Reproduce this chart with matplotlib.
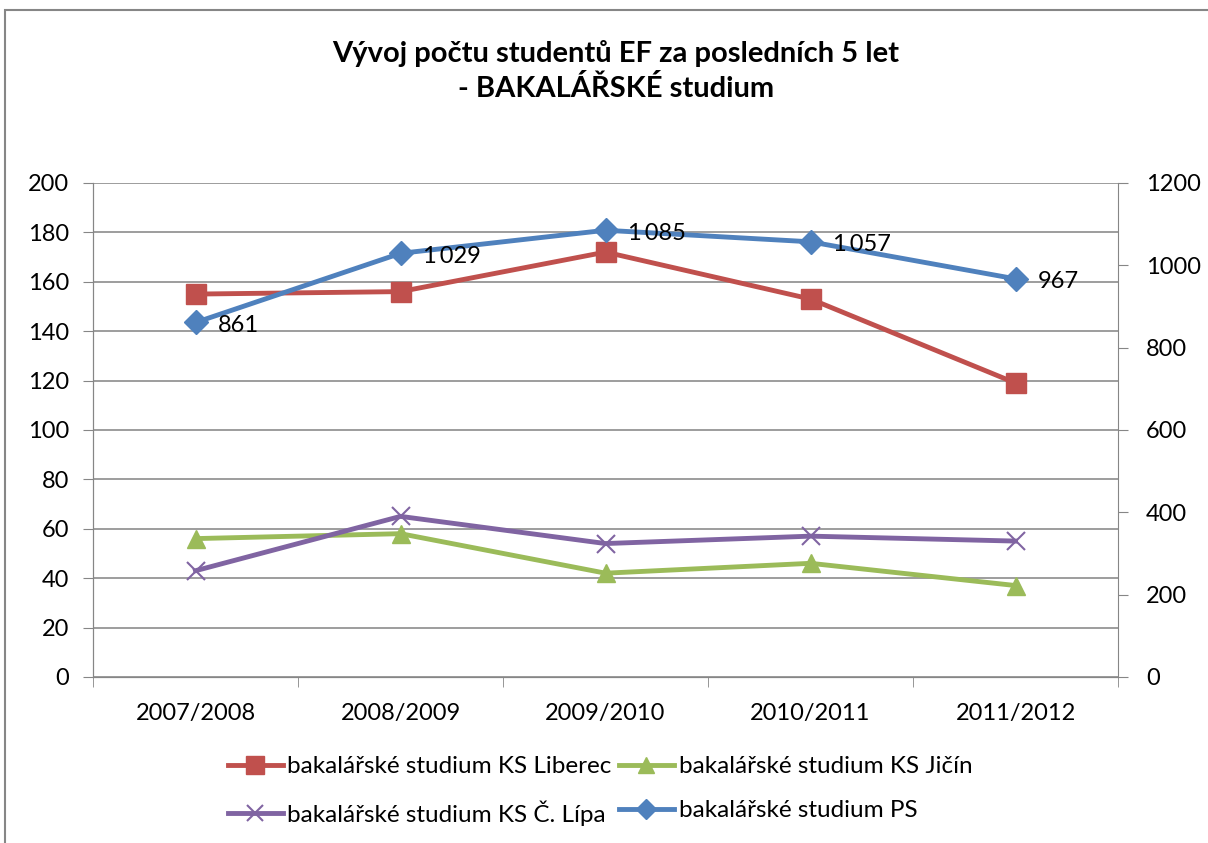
import matplotlib.pyplot as plt
from matplotlib.patches import Rectangle
from matplotlib.lines import Line2D

plt.rcParams['font.family'] = ['Lato', 'DejaVu Sans']

years = ['2007/2008', '2008/2009', '2009/2010', '2010/2011', '2011/2012']
liberec = [155, 156, 172, 153, 119]
jicin = [56, 58, 42, 46, 37]
lipa = [43, 65, 54, 57, 55]
ps = [861, 1029, 1085, 1057, 967]

red = '#C0504D'
green = '#9BBB59'
purple = '#8064A2'
blue = '#4F81BD'
gray = '#868686'

fig = plt.figure(figsize=(12.08, 8.43), dpi=100)
ax = fig.add_axes([0.077, 0.197, 0.8485, 0.586])
ax2 = ax.twinx()

x = range(len(years))
ax.plot(x, liberec, color=red, lw=3.5, marker='s', ms=14, zorder=3)
ax.plot(x, jicin, color=green, lw=3.5, marker='^', ms=13, zorder=3)
ax.plot(x, lipa, color=purple, lw=3.5, marker='x', ms=13, mew=1.5, zorder=3)
ax2.plot(x, ps, color=blue, lw=3.5, marker='D', ms=12, zorder=3)

for i, v in enumerate(ps):
    ax2.annotate(f'{v:,}'.replace(',', '\u2009'), (i, v), xytext=(16, -2),
                 textcoords='offset points', ha='left', va='center', fontsize=17)

ax.set_xlim(-0.5, len(years) - 0.5)
ax.set_ylim(0, 200)
ax.set_yticks(range(0, 201, 20))
ax2.set_ylim(0, 1200)
ax2.set_yticks(range(0, 1201, 200))
ax.set_xticks(list(x))
ax.set_xticklabels(years)
ax.set_xticks([i - 0.5 for i in range(len(years) + 1)], minor=True)
ax.tick_params(axis='x', which='major', length=0, pad=19, labelsize=17)
ax.tick_params(axis='x', which='minor', length=7, color=gray)
ax.tick_params(axis='y', length=7, color=gray, labelsize=17, pad=10)
ax2.tick_params(axis='y', length=7, color=gray, labelsize=17, pad=13)
ax.yaxis.grid(True, color='#8c8c8c', lw=1.2)
ax.set_axisbelow(True)

for a in (ax, ax2):
    a.spines['top'].set_visible(False)
    for s in ('left', 'right', 'bottom'):
        a.spines[s].set_color(gray)
ax.spines['right'].set_visible(False)

fig.text(0.51, 0.916, 'Vývoj počtu studentů EF za posledních 5 let\n- BAKALÁŘSKÉ studium',
         ha='center', va='center', fontsize=21, fontweight='bold', linespacing=1.35)

# legend is filled column by column, so order gives rows Liberec/Jičín and Č. Lípa/PS
handles = [
    Line2D([], [], color=red, lw=3.5, marker='s', ms=13),
    Line2D([], [], color=purple, lw=3.5, marker='x', ms=12, mew=1.5),
    Line2D([], [], color=green, lw=3.5, marker='^', ms=12),
    Line2D([], [], color=blue, lw=3.5, marker='D', ms=10),
]
labels = ['bakalářské studium KS Liberec', 'bakalářské studium KS Č. Lípa',
          'bakalářské studium KS Jičín', 'bakalářské studium PS']
fig.legend(handles, labels, ncol=2, loc='center', bbox_to_anchor=(0.4967, 0.0617),
           frameon=False, fontsize=17.5, handlelength=2.25, columnspacing=0.3,
           handletextpad=0.2, labelspacing=0.95, borderpad=0)

fig.patches.append(Rectangle((0.004, -0.01), 1.1, 0.998, transform=fig.transFigure,
                             fill=False, edgecolor=gray, lw=1.5))

fig.savefig('out.png', dpi=100)
